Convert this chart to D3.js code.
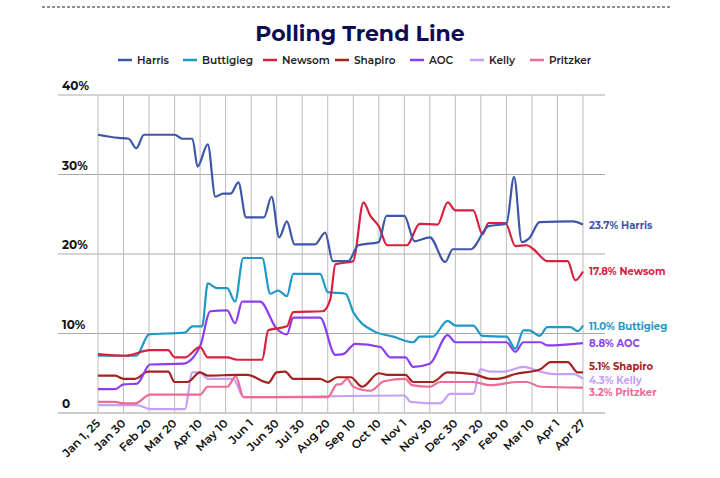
<!DOCTYPE html>
<html><head><meta charset="utf-8">
<script src="https://cdn.jsdelivr.net/npm/d3@7"></script>
<style>body{margin:0;background:#fff;font-family:Montserrat,"Open Sans",sans-serif}</style>
</head><body><div id="chart"></div>
<script>
// x positions are indexes on the evenly spaced date axis
var dateLabels = ["Jan 1, 25","Jan 30","Feb 20","Mar 20","Apr 10","May 10","Jun 1","Jun 30","Jul 30","Aug 20","Sep 10","Oct 10","Nov 1","Nov 30","Dec 30","Jan 20","Feb 10","Mar 10","Apr 1","Apr 27"];
var yTicks = [0, 10, 20, 30, 40];

var harris = [[0,35],[0.8,34.6],[1.2,34.5],[1.5,33.3],[1.8,35],[3,35],[3.3,34.5],[3.7,34.5],[3.9,31],[4.3,33.8],[4.6,27.2],[4.9,27.6],[5.2,27.6],[5.5,29],[5.8,24.6],[6.5,24.6],[6.8,27.2],[7.1,22.1],[7.4,24.1],[7.7,21.2],[8.5,21.2],[8.9,22.7],[9.2,19.1],[9.8,19.1],[10.2,21.1],[11,21.5],[11.3,24.8],[12,24.8],[12.4,21.6],[13,22.1],[13.6,19.0],[13.9,20.6],[14.6,20.6],[15.3,23.5],[16,23.8],[16.3,29.7],[16.6,21.5],[16.9,22],[17.3,24],[18.6,24.1],[19,23.7]];
var buttigieg = [[0,7.2],[1.5,7.2],[2,9.9],[3.4,10.1],[3.7,10.9],[4.08,10.9],[4.3,16.3],[4.67,15.7],[5.06,15.7],[5.37,14],[5.69,19.5],[6.43,19.5],[6.75,15],[7.06,15.4],[7.4,14.7],[7.65,17.5],[8.7,17.5],[9,15.2],[9.7,15],[10,12.7],[10.8,10.3],[11.57,9.6],[12.35,8.9],[12.6,9.6],[13.1,9.6],[13.7,11.6],[14,11],[14.7,11],[15.06,9.7],[16,9.6],[16.35,8.1],[16.67,10.4],[16.9,10.4],[17.3,9.7],[17.6,10.8],[18.5,10.8],[18.8,10.3],[19,11.0]];
var newsom = [[0,7.4],[1.06,7.2],[2.04,7.9],[2.75,7.9],[3,7],[3.4,7],[4,8.3],[4.3,7],[5.06,7],[5.45,6.7],[6.43,6.7],[6.67,10.4],[7.4,10.9],[7.65,12.7],[8.8,12.8],[9.1,14.3],[9.3,18.7],[10,19.1],[10.4,26.5],[10.67,24.8],[11,23.5],[11.33,21.1],[12.1,21.1],[12.6,23.8],[13.3,23.7],[13.7,26.5],[14,25.5],[14.7,25.5],[15.06,22.5],[15.3,23.9],[15.96,23.9],[16.35,21],[16.8,21.1],[17.06,20.6],[17.6,19.1],[18.4,19.1],[18.7,16.7],[19,17.8]];
var shapiro = [[0,4.7],[0.67,4.7],[1,4.3],[1.45,4.3],[1.96,5.2],[2.75,5.2],[3,3.9],[3.5,3.9],[4,5.1],[4.3,4.7],[5.45,4.8],[5.85,4.8],[6.67,3.8],[7,5.1],[7.33,5.2],[7.65,4.3],[8.7,4.3],[9,3.9],[9.37,4.5],[9.9,4.5],[10.35,3.3],[11,5],[11.33,4.8],[12.04,4.8],[12.35,3.9],[13.1,3.9],[13.7,5.1],[14.7,4.9],[15.37,4.3],[15.65,4.3],[16.35,4.9],[17.33,5.5],[17.73,6.4],[18.4,6.4],[18.8,5.1],[19,5.1]];
var aoc = [[0,3],[0.67,3],[1,3.6],[1.53,3.7],[2.04,6.1],[3.33,6.2],[4,8.4],[4.4,12.8],[5.06,12.9],[5.37,11.3],[5.65,14],[6.35,14],[7,10.6],[7.4,9.9],[7.65,12],[8.7,12],[9.3,7.3],[9.6,7.4],[10.08,8.7],[11.06,8.3],[11.45,7],[12.04,7],[12.35,5.8],[13,6.2],[13.7,9.8],[14,8.9],[16,8.9],[16.35,7.7],[16.67,8.9],[17.33,8.9],[17.6,8.5],[19,8.8]];
var kelly = [[0,1],[1.53,1],[2.04,0.5],[3.4,0.5],[3.7,5.1],[4,5.1],[4.3,4.3],[5.3,4.3],[5.7,2],[12,2.2],[12.24,1.4],[13.4,1.2],[13.8,2.4],[14.7,2.4],[14.98,5.5],[15.37,5.2],[15.88,5.2],[16.67,5.8],[17.33,5.2],[17.84,4.9],[18.63,4.9],[19,4.3]];
var pritzker = [[0,1.4],[0.67,1.4],[1,1.2],[1.45,1.2],[2.04,2.3],[4,2.3],[4.3,3.3],[5.06,3.3],[5.4,4.6],[5.7,2],[9,2],[9.37,3.6],[9.5,3.6],[9.76,4.3],[10,3.3],[10.67,2.8],[11.2,4],[12.04,4.3],[12.3,3.5],[13,3.3],[13.4,3.9],[14.7,3.9],[15.37,3.5],[16.43,3.9],[16.8,3.9],[17.33,3.3],[19,3.2]];

var seriesNames = ["Harris","Buttigieg","Newsom","Shapiro","AOC","Kelly","Pritzker"];
var seriesData = [harris, buttigieg, newsom, shapiro, aoc, kelly, pritzker];
var seriesColors = ["#3f56a8","#1f98c6","#d8203f","#a3231f","#8b3ff0","#c6a0f5","#ef6a94"];
var lastLabels = ["23.7% Harris","11.0% Buttigieg","17.8% Newsom","5.1% Shapiro","8.8% AOC","4.3% Kelly","3.2% Pritzker"];
var labelY = [23.7, 11.0, 17.8, 5.9, 8.8, 4.2, 2.6];

var W = 720, H = 478;
var svg = d3.select("#chart").append("svg").attr("width", W).attr("height", H);

var x = d3.scaleLinear().domain([0, 19]).range([98, 583]);
var y = d3.scaleLinear().domain([0, 40]).range([413, 95]);

svg.append("line").attr("x1", 42).attr("x2", 672).attr("y1", 7).attr("y2", 7)
    .attr("stroke", "#222").attr("stroke-width", 1.2).attr("stroke-dasharray", "3,2");

svg.append("text").attr("x", 360).attr("y", 41).attr("text-anchor", "middle")
    .attr("font-size", 22).attr("font-weight", 700).attr("fill", "#0d0d52").text("Polling Trend Line");

// legend
var legendX = [118, 183, 263, 335, 410, 470, 530];
seriesNames.forEach(function (n, i) {
    var g = svg.append("g").attr("transform", "translate(" + legendX[i] + ",60)");
    g.append("line").attr("x1", 0).attr("x2", 14).attr("stroke", seriesColors[i]).attr("stroke-width", 2.5);
    g.append("text").attr("x", 19).attr("y", 4).attr("font-size", 10.5).attr("font-weight", 600)
        .attr("fill", "#222").text(n);
});

// grid
svg.append("g").selectAll("line").data(yTicks).enter().append("line")
    .attr("x1", 58).attr("x2", 605).attr("y1", function (d) { return y(d); }).attr("y2", function (d) { return y(d); })
    .attr("stroke", function (d) { return d === 0 ? "#999" : "#aaa"; }).attr("stroke-width", 1);
svg.append("g").selectAll("line").data(d3.range(dateLabels.length)).enter().append("line")
    .attr("x1", function (d) { return x(d); }).attr("x2", function (d) { return x(d); })
    .attr("y1", y(40)).attr("y2", y(0)).attr("stroke", "#bbb").attr("stroke-width", 1);

svg.append("g").selectAll("text").data(yTicks).enter().append("text")
    .attr("x", 62).attr("y", function (d) { return y(d) - 5; })
    .attr("font-size", 12).attr("font-weight", 700).attr("fill", "#111")
    .text(function (d) { return d === 0 ? "0" : d + "%"; });

svg.append("g").selectAll("text").data(dateLabels).enter().append("text")
    .attr("transform", function (d, i) { return "translate(" + (x(i) + 3) + ",424) rotate(-45)"; })
    .attr("text-anchor", "end").attr("font-size", 11.5).attr("font-weight", 600).attr("fill", "#111")
    .text(function (d) { return d; });

var line = d3.line().x(function (d) { return x(d[0]); }).y(function (d) { return y(d[1]); })
    .curve(d3.curveMonotoneX);

var order = [5, 6, 3, 4, 1, 2, 0];
order.forEach(function (i) {
    svg.append("path").datum(seriesData[i]).attr("d", line).attr("fill", "none")
        .attr("stroke", seriesColors[i]).attr("stroke-width", 2.2).attr("stroke-linejoin", "round");
});

seriesNames.forEach(function (n, i) {
    svg.append("text").attr("x", 589).attr("y", y(labelY[i]) + 4)
        .attr("font-size", 10).attr("font-weight", 700).attr("fill", seriesColors[i]).text(lastLabels[i]);
});
</script></body></html>
